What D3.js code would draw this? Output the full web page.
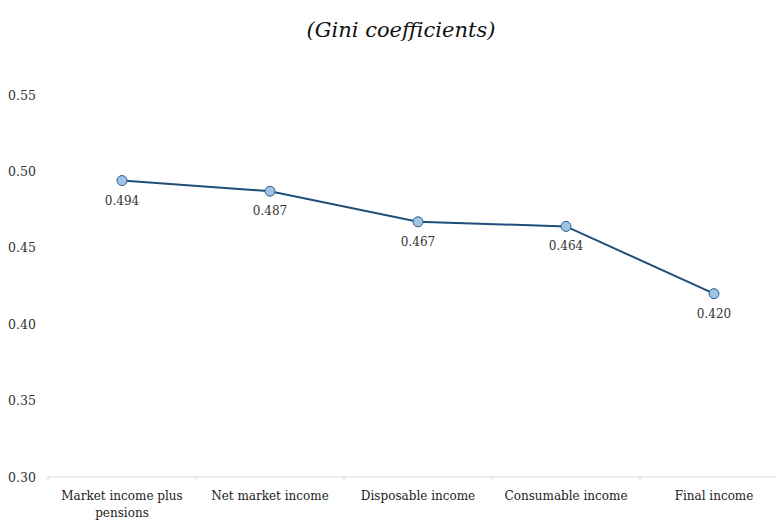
<!DOCTYPE html>
<html>
<head>
<meta charset="utf-8">
<script src="https://d3js.org/d3.v7.min.js"></script>
<style>
  body { margin: 0; background: #fff; }
</style>
</head>
<body>
<div id="chart"></div>
<script>
// data
var categories = ["Market income plus pensions", "Net market income", "Disposable income", "Consumable income", "Final income"];
var gini = [0.494, 0.487, 0.467, 0.464, 0.420];
var yTicks = [0.30, 0.35, 0.40, 0.45, 0.50, 0.55];

var FONT = "'DejaVu Serif', 'Liberation Serif', serif";
var width = 775, height = 520;
var margin = {top: 95, right: -13, bottom: 43, left: 48};

var svg = d3.select("#chart").append("svg")
    .attr("width", width)
    .attr("height", height)
    .style("font-family", FONT);

svg.append("text")
    .attr("x", 401)
    .attr("y", 37)
    .attr("text-anchor", "middle")
    .attr("font-size", "21px")
    .attr("font-style", "italic")
    .attr("fill", "#111")
    .style("font-family", FONT)
    .text("(Gini coefficients)");

var xScale = d3.scaleBand()
    .domain(categories)
    .range([margin.left, width - margin.right]);

var yScale = d3.scaleLinear()
    .domain([0.30, 0.55])
    .range([height - margin.bottom, margin.top]);

// y axis labels only, no line
var yAxis = svg.append("g")
    .attr("transform", "translate(" + margin.left + ",0)")
    .call(d3.axisLeft(yScale).tickValues(yTicks).tickFormat(d3.format(".2f")).tickSize(0).tickPadding(13));
yAxis.attr("font-family", null);
yAxis.select(".domain").remove();
yAxis.selectAll("text")
    .style("font-family", FONT)
    .attr("font-size", "12.5px")
    .attr("fill", "#333")
    .attr("text-anchor", "start")
    .attr("x", -40);

// x axis: light line with ticks between categories
var base = yScale(0.30);
svg.append("line")
    .attr("x1", margin.left).attr("x2", width)
    .attr("y1", base).attr("y2", base)
    .attr("stroke", "#d9d9d9").attr("stroke-width", 1);

var bounds = categories.map(function(c){ return xScale(c); });
svg.selectAll(".xtick").data(bounds).enter().append("line")
    .attr("class", "xtick")
    .attr("x1", function(d){ return d; }).attr("x2", function(d){ return d; })
    .attr("y1", base).attr("y2", base + 4)
    .attr("stroke", "#d9d9d9");

function wrapLabel(c) {
  if (c === "Market income plus pensions") return ["Market income plus", "pensions"];
  return [c];
}
var xl = svg.selectAll(".xlabel").data(categories).enter().append("text")
    .attr("class", "xlabel")
    .attr("text-anchor", "middle")
    .attr("font-size", "12px")
    .attr("fill", "#222")
    .style("font-family", FONT)
    .attr("x", function(d){ return xScale(d) + xScale.bandwidth()/2; })
    .attr("y", base + 23);
xl.each(function(d){
  var t = d3.select(this);
  wrapLabel(d).forEach(function(s, i){
    t.append("tspan")
      .attr("x", xScale(d) + xScale.bandwidth()/2)
      .attr("dy", i === 0 ? 0 : 17)
      .text(s);
  });
});

var pts = categories.map(function(c, i){ return {c: c, v: gini[i]}; });

var line = d3.line()
    .x(function(d){ return xScale(d.c) + xScale.bandwidth()/2; })
    .y(function(d){ return yScale(d.v); });

svg.append("path")
    .datum(pts)
    .attr("d", line)
    .attr("fill", "none")
    .attr("stroke", "#1f4e79")
    .attr("stroke-width", 2);

svg.selectAll(".dot").data(pts).enter().append("circle")
    .attr("class", "dot")
    .attr("cx", function(d){ return xScale(d.c) + xScale.bandwidth()/2; })
    .attr("cy", function(d){ return yScale(d.v); })
    .attr("r", 5)
    .attr("fill", "#9dc3e6")
    .attr("stroke", "#2e5c8a")
    .attr("stroke-width", 1);

svg.selectAll(".vlabel").data(pts).enter().append("text")
    .attr("class", "vlabel")
    .attr("text-anchor", "middle")
    .attr("font-size", "12px")
    .attr("fill", "#333")
    .style("font-family", FONT)
    .attr("x", function(d){ return xScale(d.c) + xScale.bandwidth()/2; })
    .attr("y", function(d){ return yScale(d.v) + 24; })
    .text(function(d){ return d3.format(".3f")(d.v); });
</script>
</body>
</html>
